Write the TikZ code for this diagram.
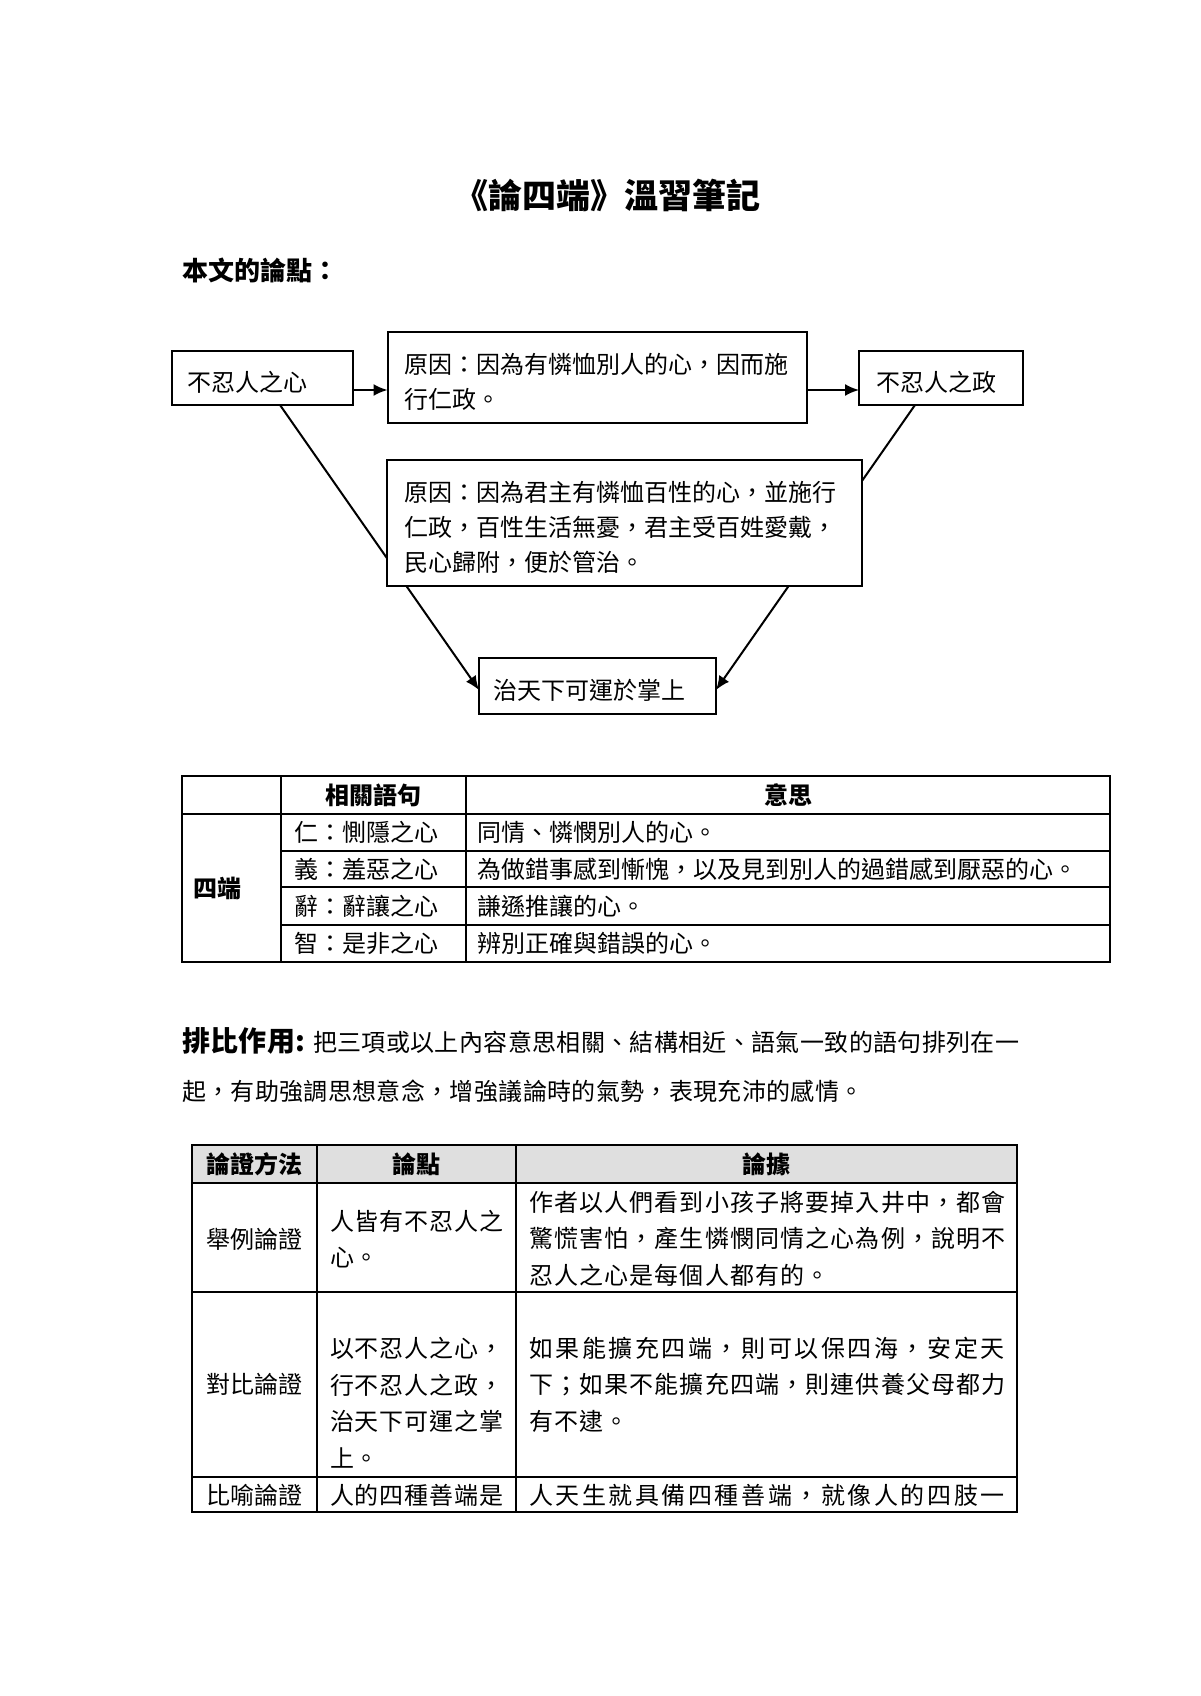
\documentclass[tikz,border=0pt]{standalone}
\usepackage{fontspec}
\setmainfont{Noto Sans CJK TC}
\newfontfamily\lsN{Noto Sans CJK TC}[LetterSpace=4.8]
\newfontfamily\lsW{Noto Sans CJK TC}[LetterSpace=10.7]
\newfontfamily\lsC{Noto Sans CJK TC}[LetterSpace=3.5]
\newfontfamily\lsP{Noto Sans CJK TC}[LetterSpace=1.5]
\newcommand\ssN{\lsN\fontsize{12}{18.25}\selectfont}
\newcommand\ssW{\lsW\fontsize{12}{18.25}\selectfont}
\newcommand\ssC{\lsC\fontsize{12}{18.25}\selectfont}
\newcommand\toppad{\rule{0pt}{14.5pt}}
\usetikzlibrary{arrows.meta}
\begin{document}
\begin{tikzpicture}[x=0.5pt,y=-0.5pt,
  every node/.style={inner sep=0pt, outer sep=0pt},
  box/.style={draw, line width=1pt, fill=white, font=\fontsize{12}{17.5}\selectfont, align=left},
  arr/.style={line width=1pt, -{Latex[length=7pt,width=6pt]}},
  cell/.style={anchor=west, font=\fontsize{12}{18.25}\selectfont, align=left},
  head/.style={font=\bfseries\fontsize{12}{14}\selectfont},
  tline/.style={line width=0.6pt}]
\useasboundingbox[fill=white] (0,0) rectangle (1200,1696);

% title
\node[font=\bfseries\fontsize{17}{20}\selectfont] (title) at (607,195) {《論四端》溫習筆記};
\node[anchor=west, font=\bfseries\fontsize{13}{16}\selectfont] (hd) at (182,270) {本文的論點：};

% diagram
\node[box, text width=75.5pt, inner xsep=7.5pt, minimum height=27pt] (n1) at (262.5,378) {\toppad 不忍人之心};
\node[box, text width=192.5pt, inner xsep=8.5pt, minimum height=45.5pt] (b1) at (597,377.5) {\toppad 原因：因為有憐恤別人的心，因而施\\行仁政。};
\node[box, text width=65pt, inner xsep=8.5pt, minimum height=27pt] (n3) at (941,378) {\toppad 不忍人之政};
\node[box, text width=104.5pt, inner xsep=7pt, minimum height=28pt] (n4) at (597.5,686) {\toppad 治天下可運於掌上};

\draw[arr] ([yshift=-6pt]n1.east) -- ([yshift=-6pt]n1.east -| b1.west);
\draw[arr] ([yshift=-6pt]n3.west -| b1.east) -- ([yshift=-6pt]n3.west);
\draw[arr] ([xshift=8.75pt]n1.south) -- ([yshift=-2pt]n4.west);
\draw[arr] ([xshift=-13pt]n3.south) -- ([yshift=-2pt]n4.east);

\node[box, text width=220.5pt, inner xsep=8.5pt, minimum height=63pt] (b2) at (624.5,523) {\toppad 原因：因為君主有憐恤百性的心，並施行\\仁政，百性生活無憂，君主受百姓愛戴，\\民心歸附，便於管治。};

% table 1
\draw[tline] (182,776) rectangle (1110,962);
\draw[tline] (281,776) -- (281,962);
\draw[tline] (466,776) -- (466,962);
\draw[tline] (182,814) -- (1110,814);
\foreach \yy in {851,887,925} \draw[tline] (281,\yy) -- (1110,\yy);
\node[head] (t1h2) at (373.5,795) {相關語句};
\node[head] (t1h3) at (788,795) {意思};
\node[head, anchor=west] (t1a) at (193,888) {四端};
\node[cell] (t1b1) at (294,832.5) {仁：惻隱之心};
\node[cell] (t1b2) at (294,869) {義：羞惡之心};
\node[cell] (t1b3) at (294,906) {辭：辭讓之心};
\node[cell] (t1b4) at (294,943.5) {智：是非之心};
\node[cell] (t1c1) at (477,832.5) {同情、憐憫別人的心。};
\node[cell] (t1c2) at (477,869) {為做錯事感到慚愧，以及見到別人的過錯感到厭惡的心。};
\node[cell] (t1c3) at (477,906) {謙遜推讓的心。};
\node[cell] (t1c4) at (477,943.5) {辨別正確與錯誤的心。};

% paragraph
\node[anchor=west, font=\lsP\fontsize{12}{14}\selectfont] (p1) at (182,1041) {{\bfseries\fontsize{14}{16}\selectfont 排比作用:} 把三項或以上內容意思相關、結構相近、語氣一致的語句排列在一};
\node[anchor=west, font=\lsP\fontsize{12}{14}\selectfont] (p2) at (182,1091) {起，有助強調思想意念，增強議論時的氣勢，表現充沛的感情。};

% table 2
\fill[gray!25] (192,1145) rectangle (1017,1183);
\draw[tline] (192,1145) rectangle (1017,1512);
\draw[tline] (317,1145) -- (317,1512);
\draw[tline] (516,1145) -- (516,1512);
\foreach \yy in {1183,1292,1477} \draw[tline] (192,\yy) -- (1017,\yy);
\node[head] (t2h1) at (254.5,1164) {論證方法};
\node[head] (t2h2) at (416.5,1164) {論點};
\node[head] (t2h3) at (766.5,1164) {論據};

\node[cell] (r1a) at (206,1239) {舉例論證};
\node[cell] (r1b) at (330,1239) {\ssC 人皆有不忍人之\\\ssC 心。};
\node[cell] (r1c) at (529,1238.5) {\ssN 作者以人們看到小孩子將要掉入井中，都會\\\ssN 驚慌害怕，產生憐憫同情之心為例，說明不\\\ssN 忍人之心是每個人都有的。};

\node[cell] (r2a) at (206,1384.5) {對比論證};
\node[cell] (r2b) at (330,1402.5) {\ssC 以不忍人之心，\\\ssC 行不忍人之政，\\\ssC 治天下可運之掌\\\ssC 上。};
\node[cell] (r2c) at (529,1384.5) {\ssW 如果能擴充四端，則可以保四海，安定天\\\ssN 下；如果不能擴充四端，則連供養父母都力\\\ssN 有不逮。};

\node[cell] (r3a) at (206,1495) {比喻論證};
\node[cell] (r3b) at (330,1495) {\ssC 人的四種善端是};
\node[cell] (r3c) at (529,1495) {\ssW 人天生就具備四種善端，就像人的四肢一};
\end{tikzpicture}
\end{document}
